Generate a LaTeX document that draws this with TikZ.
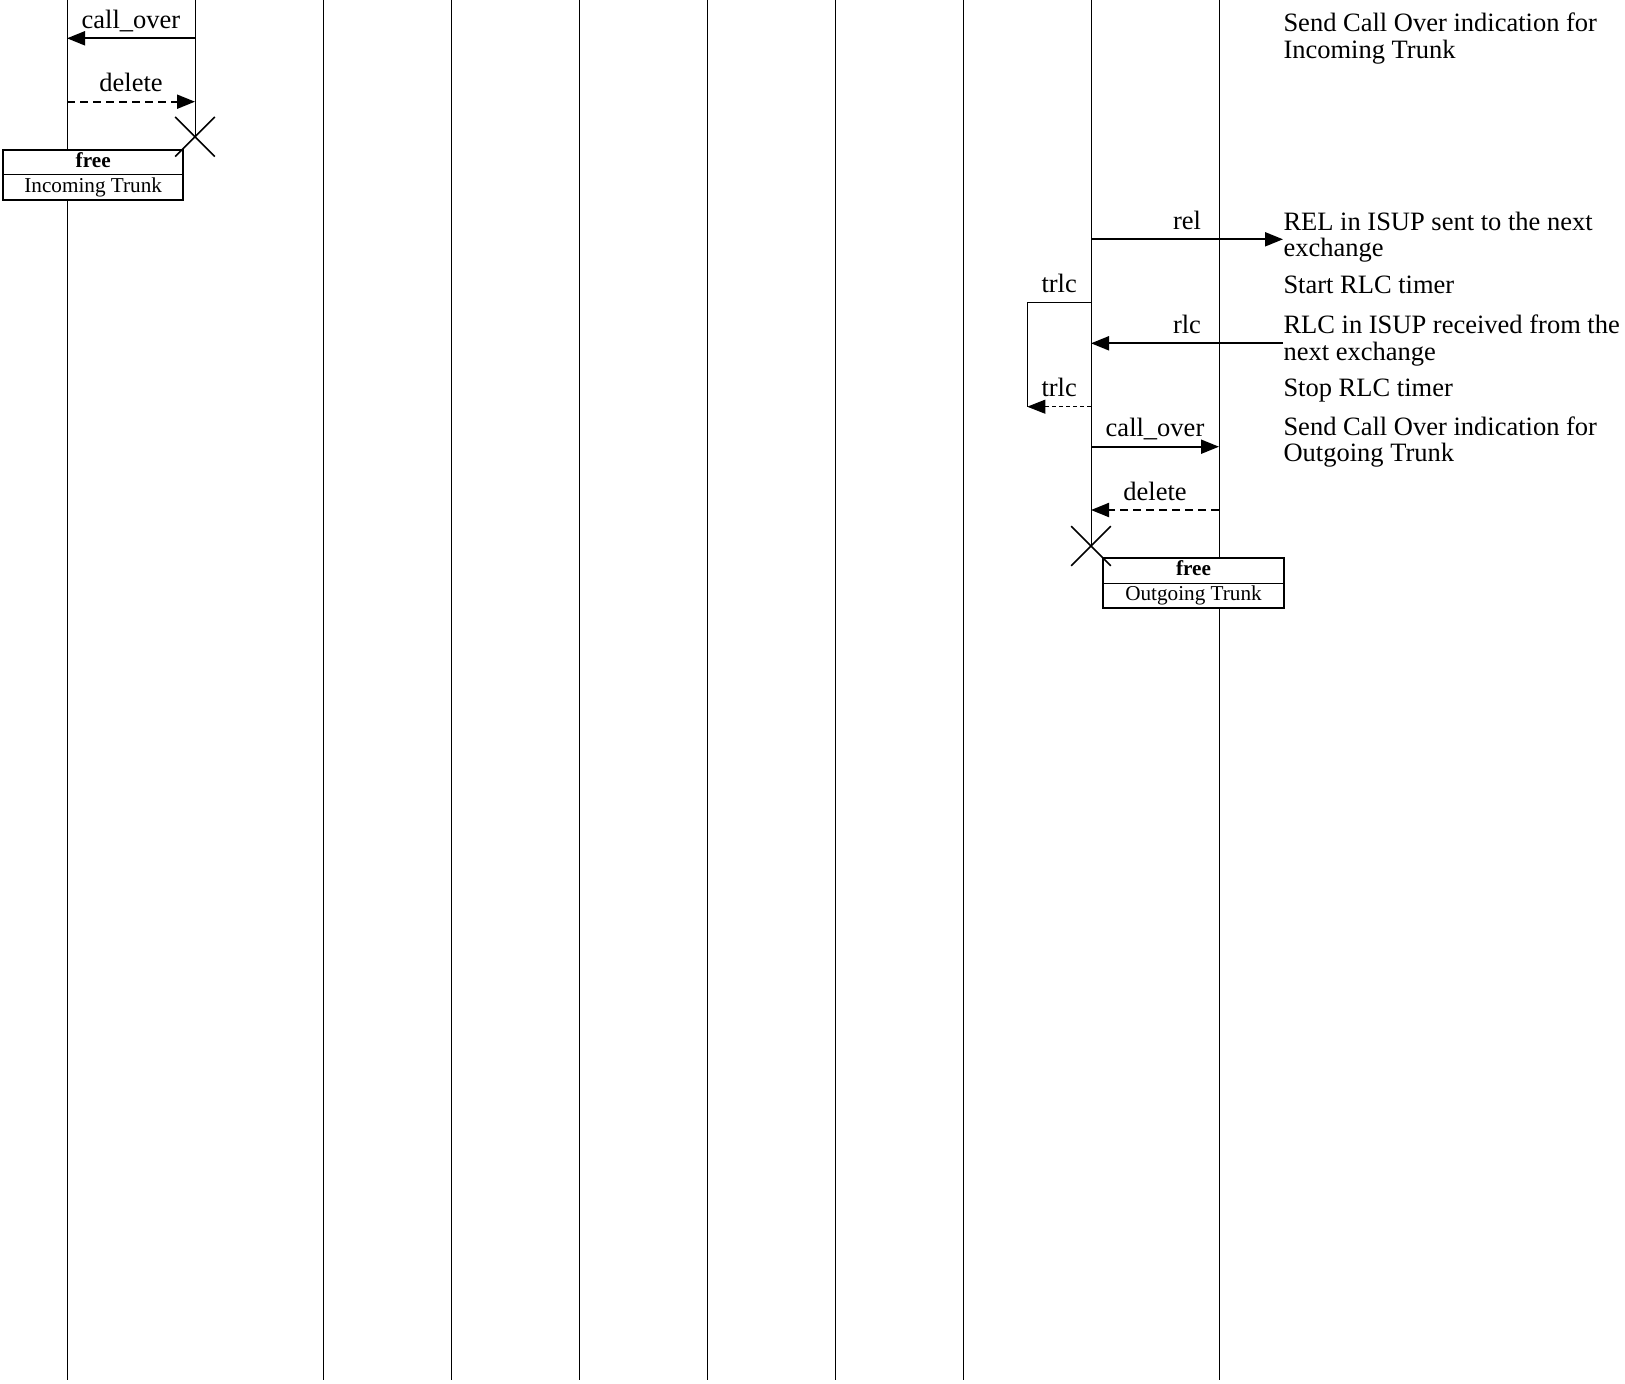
\documentclass[tikz,border=0pt]{standalone}
\usepackage{fontspec}
\setmainfont{Liberation Serif}
\usetikzlibrary{arrows.meta, shapes.misc}

\newcommand{\msgfont}{\fontsize{26.5}{26.7}\selectfont}
\newcommand{\boxfont}{\fontsize{21.2}{22}\selectfont}

\tikzset{
  lifeline/.style={line width=1pt},
  msg/.style={line width=2pt, -{Triangle[length=18pt,width=14pt]}},
  reply/.style={msg, dash pattern=on 8pt off 5pt},
  timer/.style={line width=0.8pt},
  timerback/.style={timer, dash pattern=on 4pt off 3pt, -{Triangle[length=18pt,width=14pt]}},
  lbl/.style={anchor=base, yshift=10pt, font=\msgfont, inner sep=0pt},
  note/.style={anchor=base west, inner sep=0pt, font=\msgfont, align=left},
  kill/.style={cross out, draw, line width=1.6pt, minimum size=38pt, inner sep=0pt},
  row/.style={minimum width=180pt, minimum height=24.5pt, text height=15pt, text depth=5pt,
    inner sep=0pt, font=\boxfont, fill=white}
}

\begin{document}
\begin{tikzpicture}[x=1pt, y=-1pt]
  \useasboundingbox (0,0) rectangle (1625,1384);

  % lifelines
  \foreach \i in {1,...,10} {
    \coordinate (top\i) at ({67+128*(\i-1)},0);
    \coordinate (bot\i) at ({67+128*(\i-1)},1380);
  }
  \foreach \i in {1,3,4,5,6,7,8,10}
    \draw[lifeline] (top\i) -- (bot\i);

  % incoming trunk released
  \coordinate (co1a) at (195,38.3);
  \coordinate (co1b) at (67,38.3);
  \draw[msg] (co1a) -- node[lbl] {call\_over} (co1b);
  \coordinate (del1a) at (67,101.7);
  \coordinate (del1b) at (195,101.7);
  \draw[reply] (del1a) -- node[lbl] {delete} (del1b);

  \node[row, anchor=north west] (free1) at (3,150) {\textbf{free}};
  \node[row, anchor=north] (inc1) at (free1.south) {Incoming Trunk};
  \draw[line width=1pt] (free1.south west) -- (free1.south east);
  \draw[line width=2pt] (free1.north west) rectangle (inc1.south east);

  \node[kill] (x1) at (195,136.7) {};
  \draw[lifeline] (top2) -- (x1.center);

  % release towards next exchange
  \coordinate (rel1) at (1091,239.3);
  \coordinate (rel2) at (1283,239.3);
  \draw[msg] (rel1) -- node[lbl] {rel} (rel2);

  \coordinate (t1) at (1091,302.7);
  \coordinate (t2) at (1027.3,406.7);
  \coordinate (t3) at (1091,406.7);
  \draw[timer] (t1) -- node[lbl] {trlc} (t1 -| t2) -- (t2);

  \coordinate (rlc1) at (1283,343.3);
  \coordinate (rlc2) at (1091,343.3);
  \draw[msg] (rlc1) -- node[lbl] {rlc} (rlc2);

  \draw[timerback] (t3) -- node[lbl] {trlc} (t2);

  % outgoing trunk released
  \coordinate (co2a) at (1091,446.7);
  \coordinate (co2b) at (1219,446.7);
  \draw[msg] (co2a) -- node[lbl] {call\_over} (co2b);
  \coordinate (del2a) at (1219,510);
  \coordinate (del2b) at (1091,510);
  \draw[reply] (del2a) -- node[lbl] {delete} (del2b);

  \node[row, anchor=north west] (free2) at (1103.3,558.3) {\textbf{free}};
  \node[row, anchor=north] (out2) at (free2.south) {Outgoing Trunk};
  \draw[line width=1pt] (free2.south west) -- (free2.south east);
  \draw[line width=2pt] (free2.north west) rectangle (out2.south east);

  \node[kill] (x2) at (1091,546) {};
  \draw[lifeline] (top9) -- (x2.center);

  % comments (base = last line)
  \node[note] (c1) at (1283.3,58.4) {Send Call Over indication for\\Incoming Trunk};
  \node[note] (c2) at (1283.3,256.7) {REL in ISUP sent to the next\\exchange};
  \node[note] (c3) at (1283.3,293.3) {Start RLC timer};
  \node[note] (c4) at (1283.3,360) {RLC in ISUP received from the\\next exchange};
  \node[note] (c5) at (1283.3,396.7) {Stop RLC timer};
  \node[note] (c6) at (1283.3,461.7) {Send Call Over indication for\\Outgoing Trunk};
\end{tikzpicture}
\end{document}
